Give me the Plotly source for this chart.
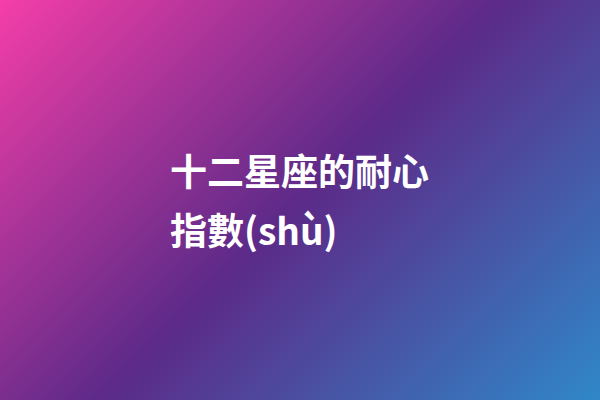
import plotly.graph_objects as go

# corner positions (pixels) and gradient levels at each corner (t grows with x + y)
corner_x = [0, 600]
corner_y = [0, 400]
corner_levels = [[0.0, 0.6],
                 [0.4, 1.0]]

gradient_stops = [[0.0, '#f53ea8'], [0.5, '#5c2a88'], [1.0, '#2f88c8']]

title_lines = ['十二星座的耐心', '指數(shù)']
title_y = [170, 229]

fig = go.Figure()
fig.add_trace(go.Heatmap(x=corner_x, y=corner_y, z=corner_levels,
                         colorscale=gradient_stops, zmin=0, zmax=1,
                         zsmooth='best', showscale=False, hoverinfo='skip'))

for line, ypos in zip(title_lines, title_y):
    fig.add_annotation(x=168, y=ypos, xref='x', yref='y', text=line,
                       showarrow=False, xanchor='left', yanchor='middle',
                       font=dict(family='Noto Sans CJK SC', size=37,
                                 color='white', weight='bold'))

fig.update_xaxes(range=[0, 600], visible=False)
fig.update_yaxes(range=[400, 0], visible=False)
fig.update_layout(width=600, height=400, margin=dict(l=0, r=0, t=0, b=0),
                  plot_bgcolor='#5c2a88', paper_bgcolor='#5c2a88')
# drop the default page margin so the picture fills the window
fig.write_html("out.html", config={'displayModeBar': False},
               post_script="document.body.style.margin='0';")
